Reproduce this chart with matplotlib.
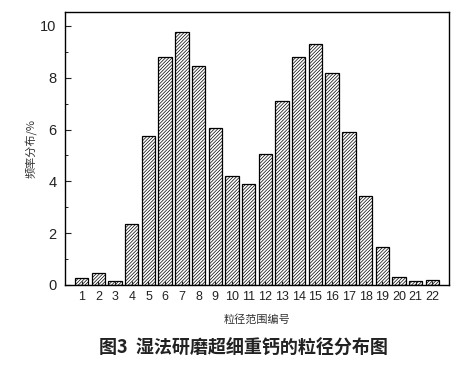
import matplotlib
matplotlib.use("Agg")
import matplotlib.pyplot as plt
from matplotlib.ticker import MultipleLocator

plt.rcParams['font.family'] = ['Liberation Sans', 'Noto Sans CJK SC', 'DejaVu Sans']
plt.rcParams['hatch.color'] = '#5a5a5a'
plt.rcParams['hatch.linewidth'] = 0.5

categories = [str(i) for i in range(1, 23)]
values = [0.26, 0.45, 0.17, 2.34, 5.75, 8.79, 9.77, 8.46, 6.07, 4.22, 3.90,
          5.07, 7.09, 8.80, 9.29, 8.17, 5.92, 3.42, 1.46, 0.31, 0.15, 0.18]

fig = plt.figure(figsize=(4.68, 3.73), dpi=100)
ax = fig.add_axes([65/468, 1-285/373, 384/468, 273/373])
x = list(range(1, 23))
ax.bar(x, values, width=0.8, color='white', edgecolor='black', linewidth=0.9,
       hatch='//////////')
ax.set_xlim(0, 23)
ax.set_ylim(0, 10.54)
ax.set_xticks(x)
ax.set_xticklabels(categories, fontsize=9)
ax.yaxis.set_major_locator(MultipleLocator(2))
ax.yaxis.set_minor_locator(MultipleLocator(1))
ax.tick_params(axis='y', which='major', direction='in', length=4, labelsize=10.5, pad=6, colors='#222222')
ax.tick_params(axis='y', which='minor', direction='in', length=2)
ax.tick_params(axis='x', direction='in', length=3, pad=4, colors='#222222')
for s in ax.spines.values():
    s.set_linewidth(1.0)
ax.set_xlabel('粒径范围编号', fontsize=8, family=['Noto Sans CJK SC'], labelpad=8, color='#333333')
ax.set_ylabel('频率分布/%', fontsize=8, family=['Noto Sans CJK SC'], labelpad=2, color='#333333')
fig.text(243/468, 1-348/373, '图3  湿法研磨超细重钙的粒径分布图', ha='center', va='center',
         fontsize=13, fontweight='bold', family=['Noto Sans CJK SC', 'DejaVu Sans'], color='#222222')
fig.savefig('out.png', dpi=100)
